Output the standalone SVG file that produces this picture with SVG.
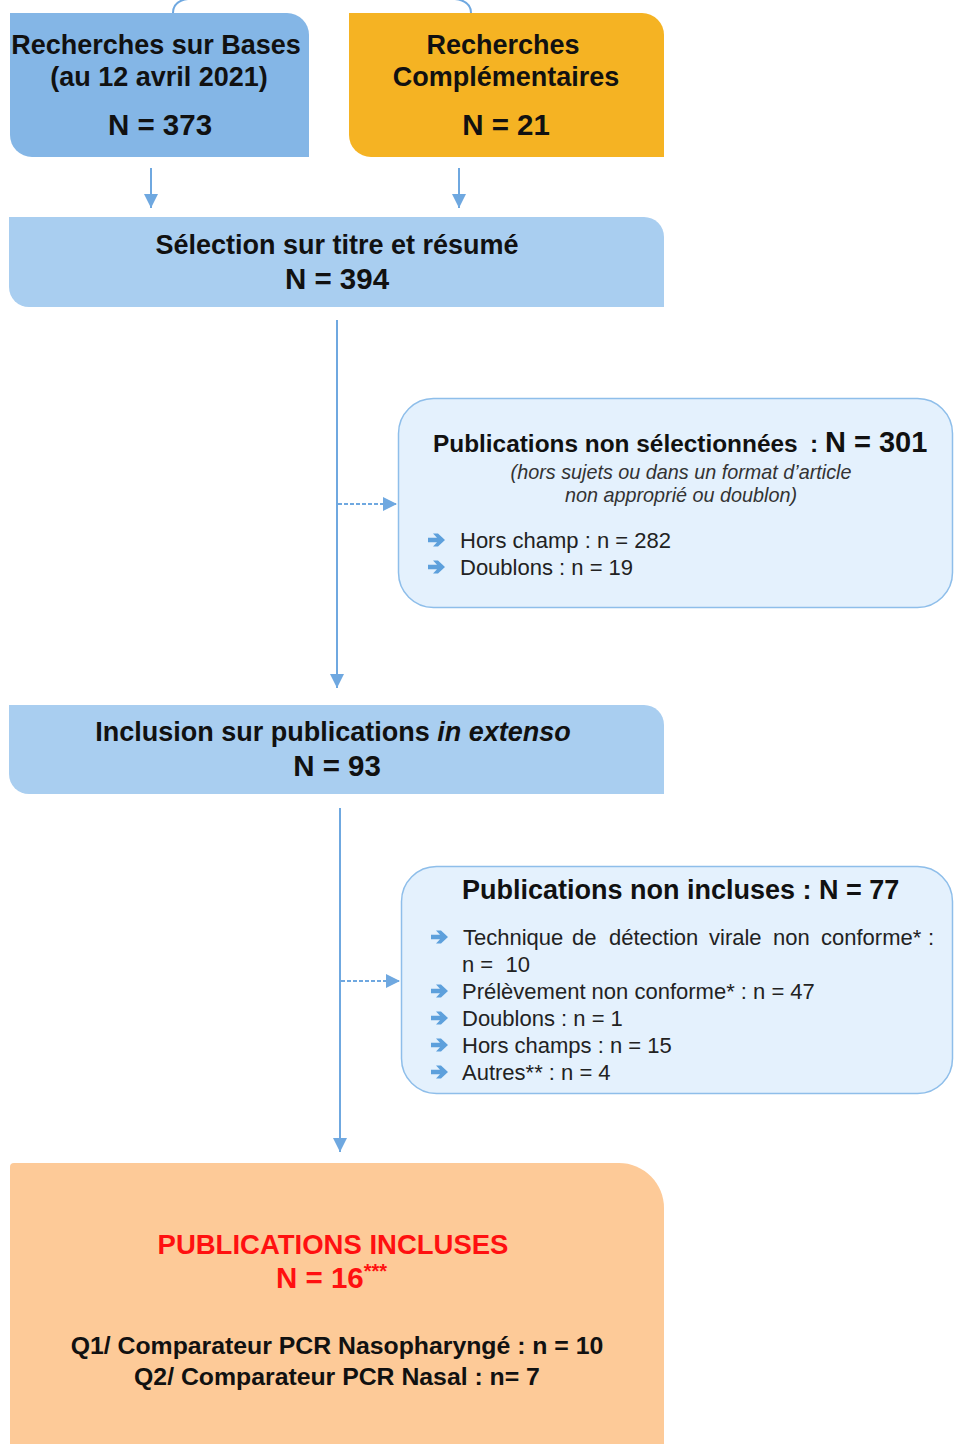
<svg xmlns="http://www.w3.org/2000/svg" xmlns:xlink="http://www.w3.org/1999/xlink" width="954" height="1444" viewBox="0 0 954 1444">
<style>
text{font-family:"Liberation Sans",Arial,sans-serif;fill:#111}
.b{font-weight:bold}
.t{font-size:27px;font-weight:bold;text-anchor:middle}
.n{font-size:29.5px}
.it{font-size:19.8px;font-style:italic;fill:#333;text-anchor:middle}
.li{font-size:22px;fill:#222}
.side{fill:#E4F1FD;stroke:#8EBEEA;stroke-width:1.5}
.con{stroke:#6FA8E0;stroke-width:2;fill:none}
.dash{stroke:#6FA8E0;stroke-width:2;fill:none;stroke-dasharray:4 2}
.red{fill:#FF1010}
</style>
<defs>
<marker id="ahb" viewBox="0 0 10 10" refX="10" refY="5" markerWidth="14" markerHeight="14" markerUnits="userSpaceOnUse" orient="auto">
<path d="M0,0 L10,5 L0,10 Z" fill="#6FA8E0"/>
</marker>
<g id="bul">
<path d="M0,-2.2 H9 L5,-6.5 H10 L17,0 L10,6.5 H5 L9,2.2 H0 Z" fill="#5DA0DC"/>
</g>
</defs>

<g id="connectors">
<path class="con" d="M173,13 Q173,1 188,-1 L455,-1 Q471,1 471,13"/>
<line class="con" x1="151" y1="168" x2="151" y2="208" marker-end="url(#ahb)"/>
<line class="con" x1="459" y1="168" x2="459" y2="208" marker-end="url(#ahb)"/>
<line class="con" x1="337" y1="320" x2="337" y2="688" marker-end="url(#ahb)"/>
<line class="dash" x1="338" y1="504" x2="397" y2="504" marker-end="url(#ahb)"/>
<line class="con" x1="340" y1="808" x2="340" y2="1152" marker-end="url(#ahb)"/>
<line class="dash" x1="341" y1="981" x2="400" y2="981" marker-end="url(#ahb)"/>
</g>

<g id="bases">
<path d="M10,13 H287 A22,22 0 0 1 309,35 V157 H32 A22,22 0 0 1 10,135 Z" fill="#84B6E6"/>
<text class="t" x="156" y="54">Recherches sur Bases</text>
<text class="t" x="159" y="86">(au 12 avril 2021)</text>
<text class="t n" x="160" y="135">N = 373</text>
</g>

<g id="complementaires">
<path d="M349,13 H642 A22,22 0 0 1 664,35 V157 H371 A22,22 0 0 1 349,135 Z" fill="#F5B323"/>
<text class="t" x="503" y="54">Recherches</text>
<text class="t" x="506" y="86">Complémentaires</text>
<text class="t n" x="506" y="135">N = 21</text>
</g>

<g id="selection">
<path d="M9,217 H644 A20,20 0 0 1 664,237 V307 H29 A20,20 0 0 1 9,287 Z" fill="#A9CEF0"/>
<text class="t" x="337" y="254">Sélection sur titre et résumé</text>
<text class="t n" x="337" y="289">N = 394</text>
</g>

<g id="non-selectionnees">
<rect class="side" x="398.5" y="398.5" width="554" height="209" rx="35"/>
<text class="b" y="452" style="font-size:24.4px"><tspan x="433">Publications non sélectionnées</tspan><tspan x="810">:</tspan></text>
<text class="b" x="825" y="452" style="font-size:29px">N = 301</text>
<text class="it" x="681" y="479">(hors sujets ou dans un format d’article</text>
<text class="it" x="681" y="502">non approprié ou doublon)</text>
<use xlink:href="#bul" x="428" y="540"/>
<text class="li" x="460" y="548">Hors champ : n = 282</text>
<use xlink:href="#bul" x="428" y="567"/>
<text class="li" x="460" y="575">Doublons : n = 19</text>
</g>

<g id="inclusion">
<path d="M9,705 H644 A20,20 0 0 1 664,725 V794 H29 A20,20 0 0 1 9,774 Z" fill="#A9CEF0"/>
<text class="t" x="333" y="741">Inclusion sur publications <tspan font-style="italic">in extenso</tspan></text>
<text class="t n" x="337" y="776">N = 93</text>
</g>

<g id="non-incluses">
<rect class="side" x="401.5" y="866.5" width="551" height="227" rx="35"/>
<text class="b" x="462" y="899" style="font-size:27px">Publications non incluses : N = 77</text>
<use xlink:href="#bul" x="431" y="937"/>
<text class="li" y="945"><tspan x="463">Technique</tspan><tspan x="572">de</tspan><tspan x="609">détection</tspan><tspan x="709">virale</tspan><tspan x="773">non</tspan><tspan x="821">conforme*</tspan><tspan x="928">:</tspan></text>
<text class="li" x="462" y="972" xml:space="preserve">n =  10</text>
<use xlink:href="#bul" x="431" y="991"/>
<text class="li" x="462" y="999">Prélèvement non conforme* : n = 47</text>
<use xlink:href="#bul" x="431" y="1018"/>
<text class="li" x="462" y="1026">Doublons : n = 1</text>
<use xlink:href="#bul" x="431" y="1045"/>
<text class="li" x="462" y="1053">Hors champs : n = 15</text>
<use xlink:href="#bul" x="431" y="1072"/>
<text class="li" x="462" y="1080">Autres** : n = 4</text>
</g>

<g id="incluses">
<path d="M14,1163 H619 A45,45 0 0 1 664,1208 V1450 H10 V1167 A4,4 0 0 1 14,1163 Z" fill="#FDCA98"/>
<text class="t red" x="333" y="1254" style="font-size:27.5px">PUBLICATIONS INCLUSES</text>
<text class="b red" x="276" y="1288" style="font-size:29.5px">N = 16<tspan style="font-size:20px" dy="-10">***</tspan></text>
<text class="t" x="337" y="1354" style="font-size:24.8px">Q1/ Comparateur PCR Nasopharyngé : n = 10</text>
<text class="t" x="337" y="1385" style="font-size:24.8px">Q2/ Comparateur PCR Nasal : n= 7</text>
</g>
</svg>
